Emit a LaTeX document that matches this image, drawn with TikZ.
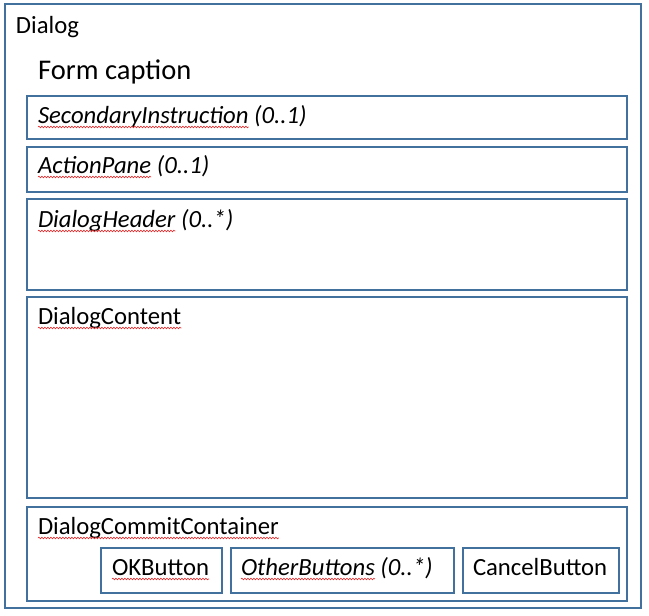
\documentclass[tikz,border=0pt]{standalone}
\usepackage{fontspec}
\setmainfont{Carlito}
\usetikzlibrary{decorations.pathmorphing}
\definecolor{boxblue}{RGB}{65,113,156}
\definecolor{squigred}{RGB}{230,40,40}
\begin{document}
\begin{tikzpicture}[x=1pt,y=-1pt,
  frame/.style={draw=boxblue,line width=1.2pt,anchor=north west,inner sep=0pt,outer sep=0pt},
  lbl/.style={anchor=base west,inner sep=0pt,outer sep=0pt,font=\fontsize{24.7}{29}\selectfont},
  ilbl/.style={lbl,font=\fontsize{24.7}{29}\selectfont\itshape},
  caption/.style={anchor=base west,inner sep=0pt,font=\fontsize{28.5}{33}\selectfont},
  squig/.style={draw=squigred,line width=0.6pt,decorate,decoration={snake,amplitude=0.8pt,segment length=3pt}}]
\useasboundingbox (0,0) rectangle (649,616);
\fill[white] (0,0) rectangle (649,616);
% boxes
\node[frame,minimum width=636pt,minimum height=604pt] (dialog) at (5,4) {};
\node[frame,minimum width=600pt,minimum height=43pt] (sec) at (27,96) {};
\node[frame,minimum width=600pt,minimum height=45pt] (act) at (27,147) {};
\node[frame,minimum width=600pt,minimum height=91pt] (hdr) at (27,199) {};
\node[frame,minimum width=600pt,minimum height=201pt] (cnt) at (27,297) {};
\node[frame,minimum width=600pt,minimum height=94pt] (cmt) at (27,507) {};
\node[frame,minimum width=121pt,minimum height=45pt] (ok) at (101,548) {};
\node[frame,minimum width=223pt,minimum height=45pt] (oth) at (231,548) {};
\node[frame,minimum width=156pt,minimum height=45pt] (cancel) at (463,548) {};
% labels
\node[lbl] (tdialog) at (16,33) {Dialog};
\node[caption] (tcaption) at (38,79) {Form caption};
\node[ilbl] (tsec) at (38,123) {SecondaryInstruction};
\node[ilbl] (tsecm) at (tsec.base east) {\ (0..1)};
\node[ilbl] (tact) at (38,173) {ActionPane};
\node[ilbl] (tactm) at (tact.base east) {\ (0..1)};
\node[ilbl] (thdr) at (38,227) {DialogHeader};
\node[ilbl] (thdrm) at (thdr.base east) {\ (0..*)};
\node[lbl] (tcnt) at (38,324) {DialogContent};
\node[lbl] (tcmt) at (38,534) {DialogCommitContainer};
\node[lbl] (tok) at (112,575) {OKButton};
\node[ilbl] (toth) at (241,575) {OtherButtons};
\node[ilbl] (tothm) at (toth.base east) {\ (0..*)};
\node[lbl] (tcancel) at (473,575) {CancelButton};
% spell-check squiggles
\foreach \w in {tsec,tact,thdr,tcnt,tcmt,tok,toth}{
  \draw[squig] ([yshift=-4pt]\w.base west) -- ([yshift=-4pt]\w.base east);
}
\end{tikzpicture}
\end{document}
